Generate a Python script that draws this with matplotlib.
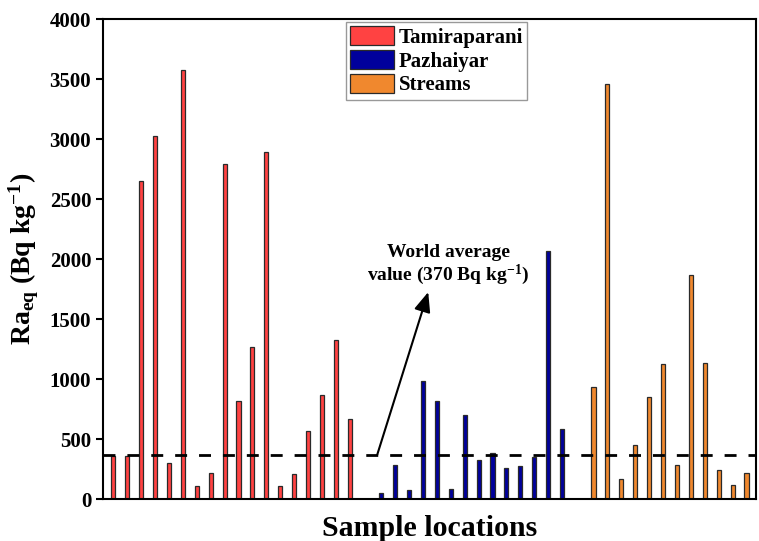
import numpy as np
import matplotlib.pyplot as plt

plt.rcParams["font.family"] = ["Liberation Serif", "DejaVu Serif"]
plt.rcParams["font.weight"] = "bold"
plt.rcParams["mathtext.fontset"] = "custom"
plt.rcParams["mathtext.rm"] = "Liberation Serif:bold"
plt.rcParams["mathtext.bf"] = "Liberation Serif:bold"
plt.rcParams["mathtext.it"] = "Liberation Serif:bold"
plt.rcParams["mathtext.default"] = "bf"

# Ra_eq par site (Bq/kg)
tamiraparani = [360, 360, 2655, 3030, 305, 3575, 108, 222, 2797, 817,
                1272, 2891, 108, 208, 572, 869, 1328, 667]
pazhaiyar = [55, 286, 78, 988, 817, 88, 705, 325, 383, 261, 278, 355, 2069, 586]
streams = [936, 3463, 169, 450, 855, 1125, 286, 1872, 1138, 244, 117, 219]

WORLD_AVG = 370
GAP = 2.26  # écart entre les groupes

x_t = np.arange(len(tamiraparani))
x_p = x_t[-1] + GAP + np.arange(len(pazhaiyar))
x_s = x_p[-1] + GAP + np.arange(len(streams))

fig, ax = plt.subplots(figsize=(7.59, 5.41), dpi=100)
fig.subplots_adjust(left=0.1357, right=0.996, bottom=0.0771, top=0.9643)

largeur = 0.29
ax.bar(x_t, tamiraparani, width=largeur, color="#FF4242", edgecolor="#2a2a2a",
       linewidth=0.9, label="Tamiraparani")
ax.bar(x_p, pazhaiyar, width=largeur, color="#00009C", edgecolor="#2a2a2a",
       linewidth=0.9, label="Pazhaiyar")
ax.bar(x_s, streams, width=largeur, color="#F0882E", edgecolor="#2a2a2a",
       linewidth=0.9, label="Streams")

ax.axhline(WORLD_AVG, color="black", linewidth=2, linestyle=(0, (4.3, 4.3)), zorder=3)

ax.annotate("", xy=(22.64, 1727), xytext=(18.97, WORLD_AVG),
            arrowprops=dict(arrowstyle="-|>,head_length=0.6,head_width=0.25",
                            color="black", lw=1.5, mutation_scale=20,
                            shrinkA=0, shrinkB=0))
ax.text(24.1, 1952, "World average\nvalue (370 Bq kg$^{-1}$)", ha="center",
        va="center", fontsize=14, fontweight="bold", linespacing=1.1)

ax.set_xlim(-0.74, x_s[-1] + 0.68)
ax.set_ylim(0, 4000)
ax.set_yticks(np.arange(0, 4001, 500))
ax.set_xticks([])
ax.tick_params(axis="y", direction="out", length=5, width=1.5, labelsize=15)
for lab in ax.get_yticklabels():
    lab.set_fontweight("bold")
for sp in ax.spines.values():
    sp.set_linewidth(1.5)

ax.set_ylabel(r"Ra$_{eq}$ (Bq kg$^{-1}$)", fontsize=20, fontweight="bold", labelpad=6)
ax.set_xlabel("Sample locations", fontsize=21.5, fontweight="bold", labelpad=11)

leg = ax.legend(loc="upper center", bbox_to_anchor=(0.511, 0.995), fontsize=15,
                handlelength=2.1, handleheight=1.05, labelspacing=0.1,
                handletextpad=0.25, borderpad=0.2, borderaxespad=0,
                fancybox=False, edgecolor="#999999", framealpha=1)
for t in leg.get_texts():
    t.set_fontweight("bold")

plt.savefig("out.png", dpi=100)
